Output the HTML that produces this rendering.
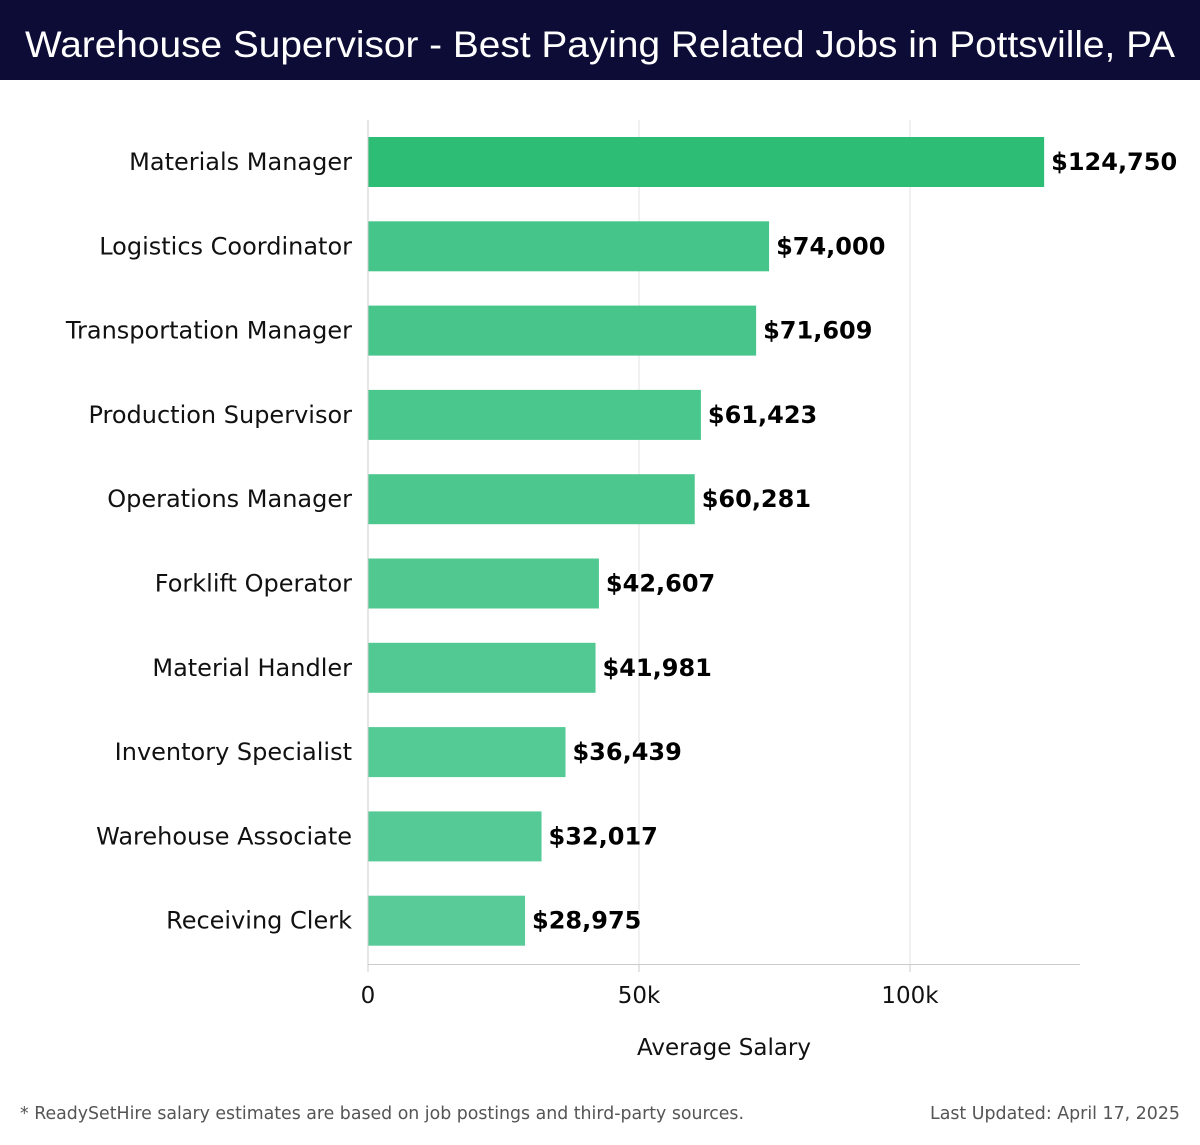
<!DOCTYPE html>
<html><head><meta charset="utf-8"><style>
body{margin:0;background:#fff;width:1200px;height:1140px;overflow:hidden}
</style></head><body>
<svg id="chart" width="1200" height="1140" xmlns="http://www.w3.org/2000/svg">
<rect x="0" y="0" width="1200" height="80" fill="#0c0c36"/>
<text x="25" y="57" fill="#fff" font-family="Liberation Sans, sans-serif" font-size="37" textLength="1150" lengthAdjust="spacingAndGlyphs">Warehouse Supervisor - Best Paying Related Jobs in Pottsville, PA</text>
<g id="grid"></g>
<g id="bars"></g>
<line x1="368" y1="120" x2="368" y2="964" stroke="#ccc" stroke-width="1"/>
<line x1="368" y1="964.5" x2="1080" y2="964.5" stroke="#ccc" stroke-width="1"/>
<g id="xticks"></g>
<text x="724" y="1055" text-anchor="middle" font-family="DejaVu Sans, sans-serif" font-size="23" fill="#111">Average Salary</text>
<text x="20" y="1119" font-family="DejaVu Sans, sans-serif" font-size="18" fill="#555" textLength="724" lengthAdjust="spacingAndGlyphs">* ReadySetHire salary estimates are based on job postings and third-party sources.</text>
<text x="1180" y="1119" text-anchor="end" font-family="DejaVu Sans, sans-serif" font-size="18" fill="#555" textLength="250" lengthAdjust="spacingAndGlyphs">Last Updated: April 17, 2025</text>
</svg>
<script>
const categories=["Materials Manager","Logistics Coordinator","Transportation Manager","Production Supervisor","Operations Manager","Forklift Operator","Material Handler","Inventory Specialist","Warehouse Associate","Receiving Clerk"];
const salaries=[124750,74000,71609,61423,60281,42607,41981,36439,32017,28975];
const tickValues=[0,50000,100000];
const tickLabels=["0","50k","100k"];
const NS="http://www.w3.org/2000/svg";
const x=v=>368+v*(542/100000);
const y=i=>162+i*84.3;
const colors=["#2dbd74","#46c58a","#47c58b","#4ac78d","#4cc78e","#50c890","#52c992","#54ca94","#56ca96","#58cb98"];
function mk(tag,attrs,parent){const e=document.createElementNS(NS,tag);for(const k in attrs)e.setAttribute(k,attrs[k]);parent.appendChild(e);return e;}
const grid=document.getElementById('grid'),bars=document.getElementById('bars'),xt=document.getElementById('xticks');
tickValues.forEach((t,i)=>{
  if(t>0){const g=mk('line',{x1:x(t),x2:x(t),y1:120,y2:964,stroke:'#e3e3e3','stroke-width':1},grid);
  
  }
  const tk=mk('line',{x1:x(t),x2:x(t),y1:964,y2:972,stroke:'#ccc'},xt);
  
  
  const tl=mk('text',{x:x(t),y:1003,'text-anchor':'middle','font-family':'DejaVu Sans, sans-serif','font-size':23,fill:'#111'},xt);
  tl.textContent=tickLabels[i];
  
  
});
categories.forEach((c,i)=>{
  const r=mk('rect',{x:368,y:y(i)-25,width:x(salaries[i])-368,height:50,fill:colors[i]},bars);
  
  
  const l=mk('text',{x:352,y:y(i)+8,'text-anchor':'end','font-family':'DejaVu Sans, sans-serif','font-size':24,fill:'#111'},bars);
  l.textContent=c;
  
  
  const v=mk('text',{x:x(salaries[i])+7,y:y(i)+8,'font-family':'DejaVu Sans, sans-serif','font-size':24,'font-weight':'bold',fill:'#000'},bars);
  v.textContent='$'+salaries[i].toLocaleString('en-US');
  
  
});
</script>
</body></html>
